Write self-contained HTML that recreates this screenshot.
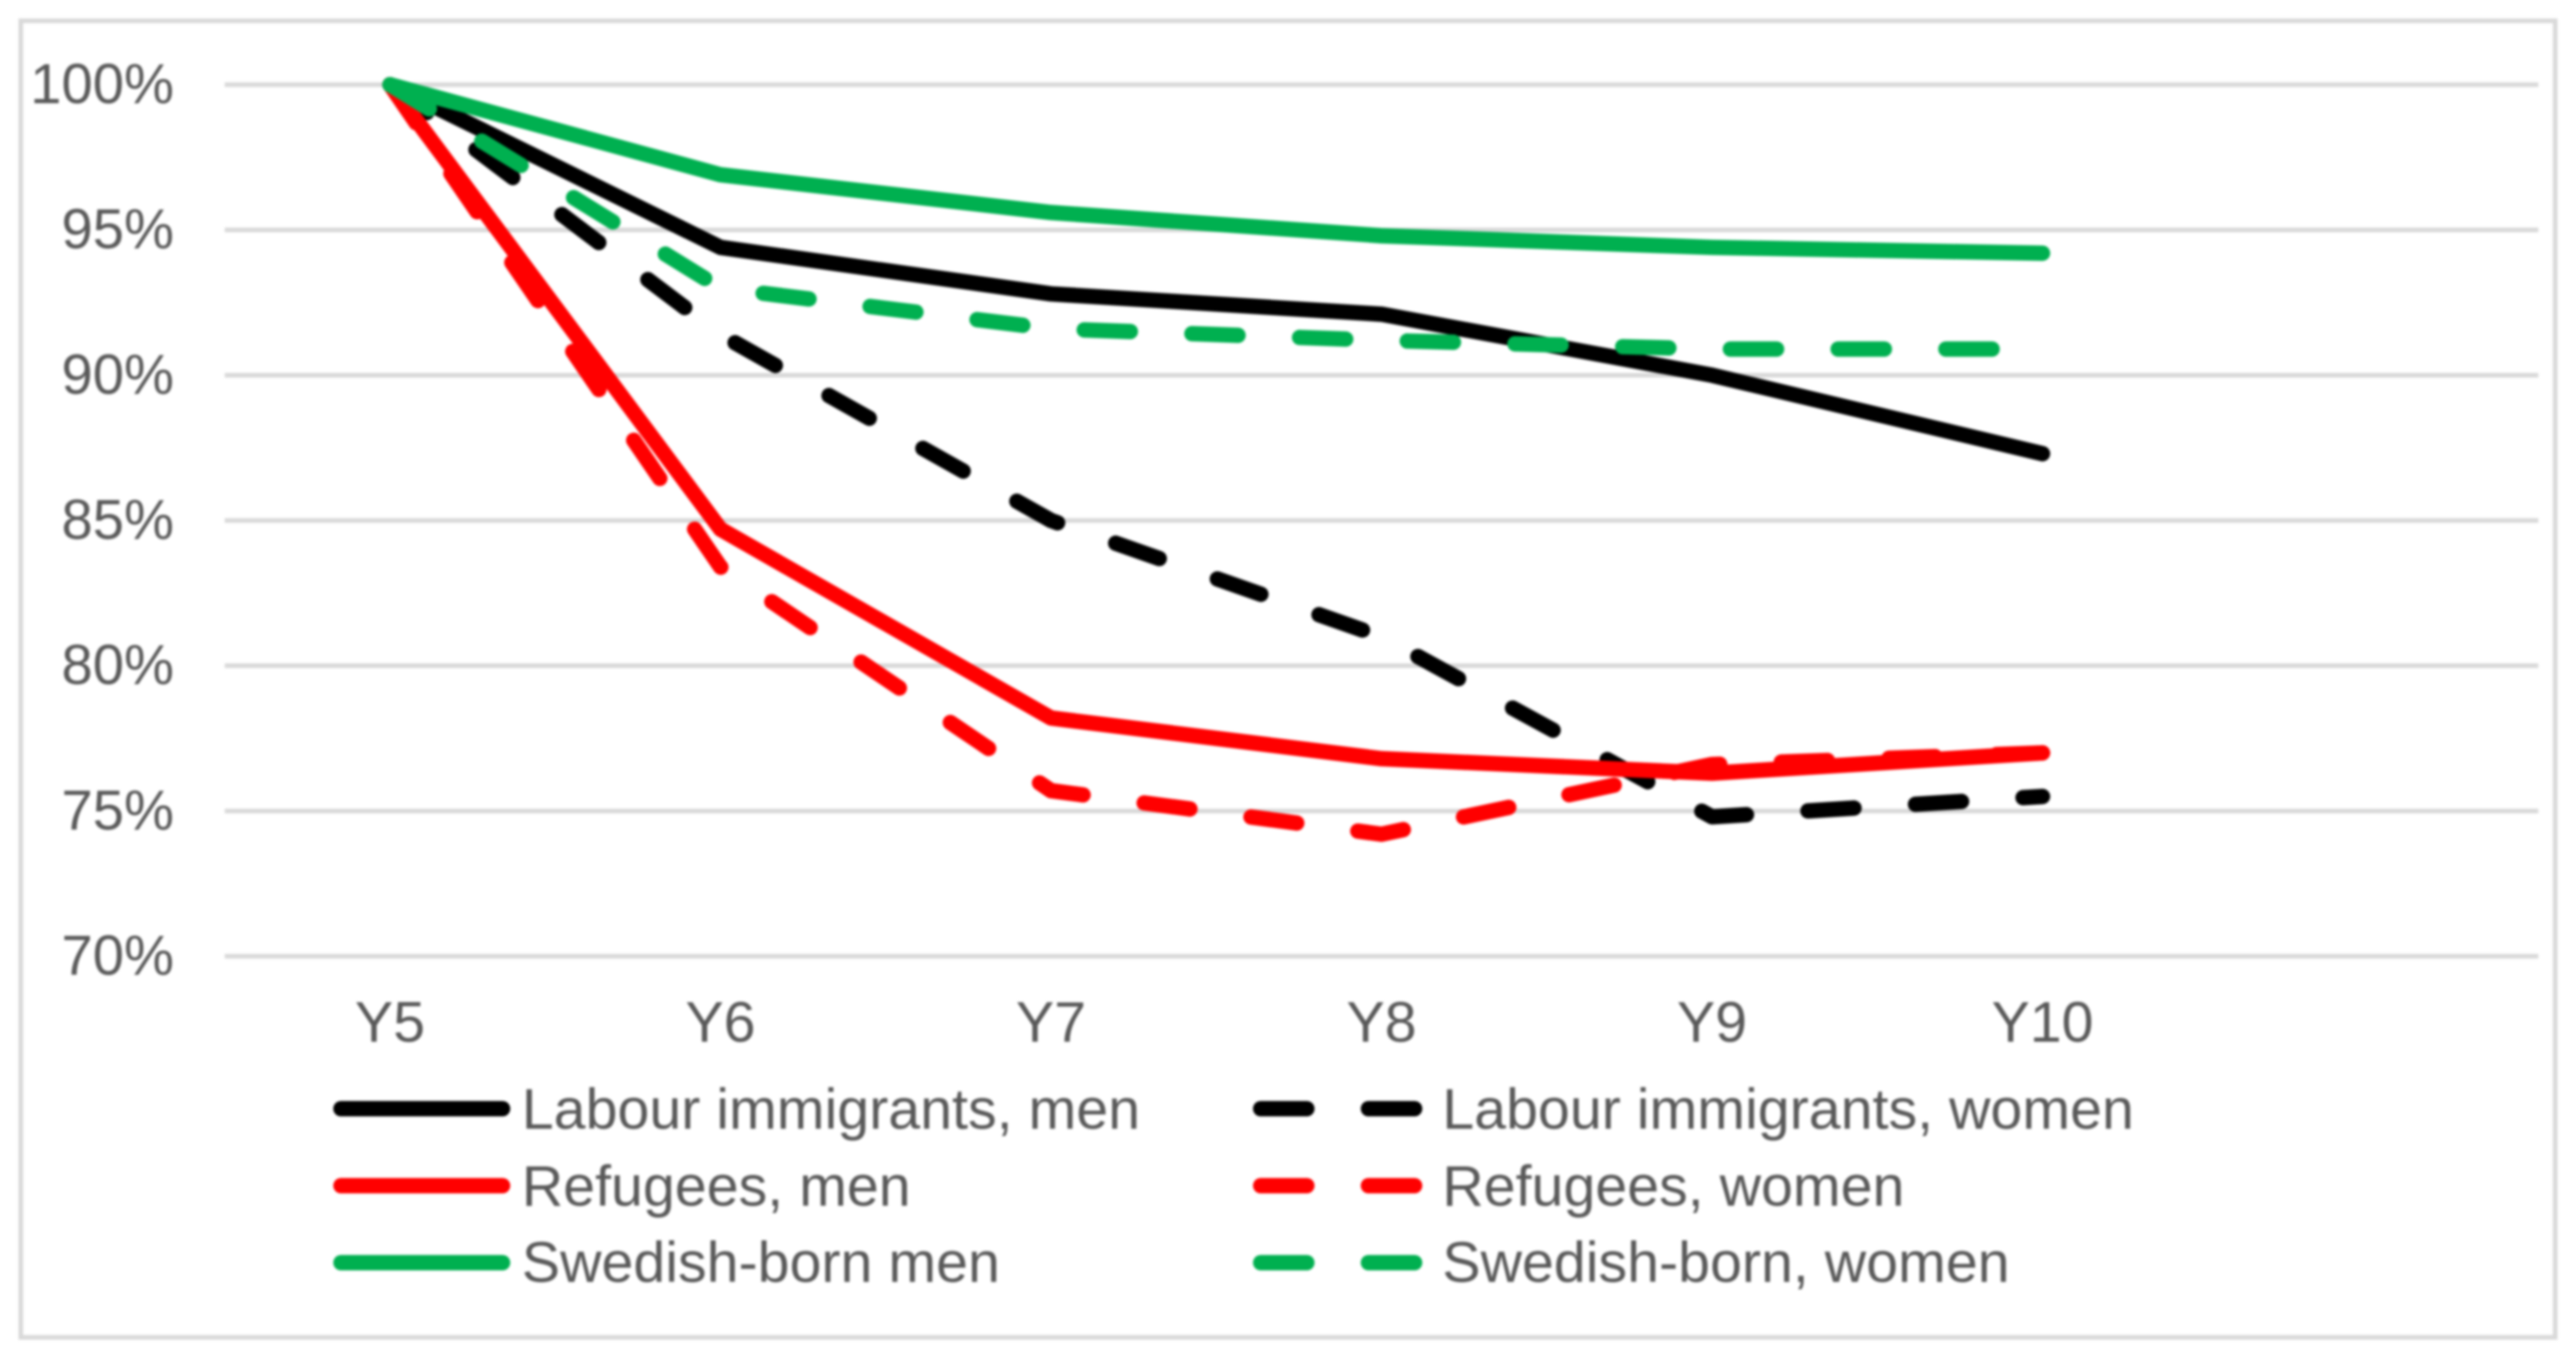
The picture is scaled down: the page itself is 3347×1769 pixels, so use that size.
<!DOCTYPE html>
<html>
<head>
<meta charset="utf-8">
<style>
html,body{margin:0;padding:0;background:#fff;width:3347px;height:1769px;overflow:hidden}
svg{display:block;filter:blur(1.5px)}
text{font-family:"Liberation Sans",sans-serif;fill:#595959;font-size:74.5px}
#yaxis text{font-size:73px}
</style>
</head>
<body>
<svg id="chart" xmlns="http://www.w3.org/2000/svg" width="3347" height="1769" viewBox="0 0 3347 1769">
<rect x="27" y="27" width="3293" height="1710" fill="#fff" stroke="#d9d9d9" stroke-width="6"/>
<g id="grid"></g>
<g id="yaxis"></g>
<g id="xaxis"></g>
<g id="series"></g>
<g id="legend"></g>
</svg>
<script>
const categories = ['Y5','Y6','Y7','Y8','Y9','Y10'];
const yTicks = [100,95,90,85,80,75,70];
const labourMen = [100,94.4,92.8,92.1,90,87.3];
const labourWomen = [100,91.4,85,81,74.8,75.5];
const refugeesMen = [100,84.7,78.2,76.8,76.3,77];
const refugeesWomen = [100,83.4,75.7,74.2,76.6,77];
const swedishMen = [100,96.9,95.6,94.8,94.4,94.2];
const swedishWomen = [100,93,91.6,91.2,90.9,90.9];

const NS = 'http://www.w3.org/2000/svg';
const plotL = 292, plotR = 3298, slots = 7;
const yTop = 110, yBottom = 1242, vMax = 100, vMin = 70;
const xPos = i => plotL + (plotR - plotL) * (i + 0.5) / slots;
const yPos = v => yTop + (vMax - v) * (yBottom - yTop) / (vMax - vMin);
const mk = (tag, parent) => { const e = document.createElementNS(NS, tag); parent.appendChild(e); return e; };
const grid = document.getElementById('grid');
const yaxis = document.getElementById('yaxis');
const xaxis = document.getElementById('xaxis');
const seriesG = document.getElementById('series');
const legend = document.getElementById('legend');

yTicks.forEach(t => {
  const l = mk('line', grid);
  
  
  l.setAttribute('x1', plotL); l.setAttribute('x2', plotR);
  l.setAttribute('y1', yPos(t)); l.setAttribute('y2', yPos(t));
  l.setAttribute('stroke', '#d9d9d9'); l.setAttribute('stroke-width', 6);
  const s = mk('text', yaxis);
  
  
  s.setAttribute('x', 226); s.setAttribute('y', yPos(t) + 24);
  s.setAttribute('text-anchor', 'end');
  s.textContent = t + '%';
});
categories.forEach((c, i) => {
  const s = mk('text', xaxis);
  
  
  s.setAttribute('x', xPos(i)); s.setAttribute('y', 1353);
  s.setAttribute('text-anchor', 'middle');
  s.textContent = c;
});

const DASH = '60 80';
const draw = (vals, color, dashed, name) => {
  const p = mk('polyline', seriesG);
  
  
  p.setAttribute('points', vals.map((v, i) => xPos(i) + ',' + yPos(v)).join(' '));
  p.setAttribute('fill', 'none');
  p.setAttribute('stroke', color);
  p.setAttribute('stroke-width', 20);
  p.setAttribute('stroke-linecap', 'round');
  p.setAttribute('stroke-linejoin', 'round');
  if (dashed) p.setAttribute('stroke-dasharray', DASH);
};
draw(labourWomen, '#000000', true, 'line-labour-immigrants-women');
draw(labourMen, '#000000', false, 'line-labour-immigrants-men');
draw(refugeesWomen, '#ff0000', true, 'line-refugees-women');
draw(refugeesMen, '#ff0000', false, 'line-refugees-men');
draw(swedishWomen, '#00b050', true, 'line-swedish-born-women');
draw(swedishMen, '#00b050', false, 'line-swedish-born-men');

const entry = (label, color, dashed, col, row, name) => {
  const g = mk('g', legend);
  
  
  const rowY = [1440, 1540, 1640][row];
  const baseY = [1466, 1566, 1665][row];
  const l = mk('line', g);
  
  
  l.setAttribute('x1', col === 0 ? 443 : 1638);
  l.setAttribute('x2', col === 0 ? 653 : 1838);
  l.setAttribute('y1', rowY); l.setAttribute('y2', rowY);
  l.setAttribute('stroke', color); l.setAttribute('stroke-width', 20);
  l.setAttribute('stroke-linecap', 'round');
  if (dashed) l.setAttribute('stroke-dasharray', DASH);
  const t = mk('text', g);
  
  
  t.setAttribute('x', col === 0 ? 678 : 1874);
  t.setAttribute('y', baseY);
  t.textContent = label;
};
entry('Labour immigrants, men', '#000000', false, 0, 0, 'legend-labour-immigrants-men');
entry('Labour immigrants, women', '#000000', true, 1, 0, 'legend-labour-immigrants-women');
entry('Refugees, men', '#ff0000', false, 0, 1, 'legend-refugees-men');
entry('Refugees, women', '#ff0000', true, 1, 1, 'legend-refugees-women');
entry('Swedish-born men', '#00b050', false, 0, 2, 'legend-swedish-born-men');
entry('Swedish-born, women', '#00b050', true, 1, 2, 'legend-swedish-born-women');
</script>
</body>
</html>
